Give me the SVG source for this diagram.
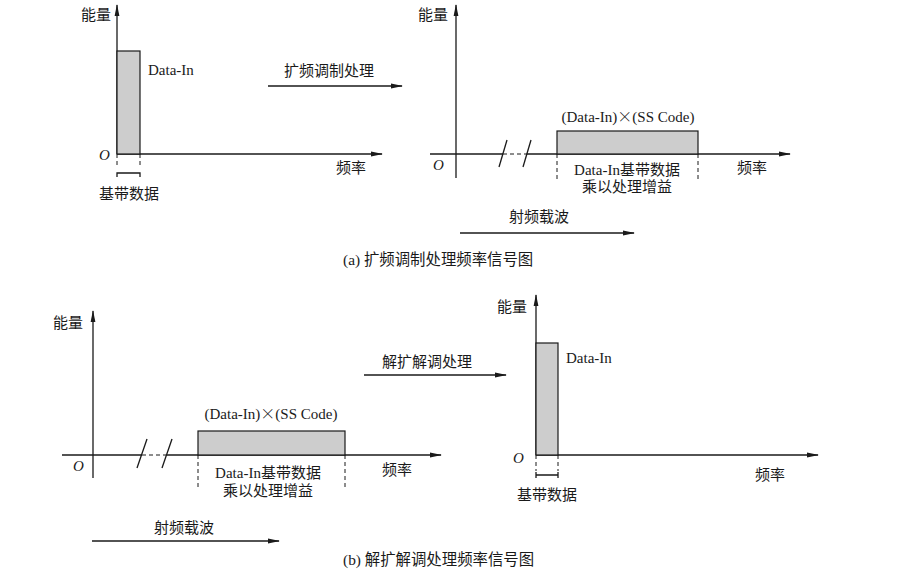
<svg xmlns="http://www.w3.org/2000/svg" width="904" height="577" viewBox="0 0 904 577">
<defs>
<marker id="ah" markerWidth="12" markerHeight="6" refX="11" refY="3" orient="auto" markerUnits="userSpaceOnUse">
<path d="M0,0.6 L12,3 L0,5.4 Z" fill="#1a1a1a"/>
</marker>
<style>
.ax{stroke:#1a1a1a;stroke-width:1.3;fill:none}
.dash{stroke:#1a1a1a;stroke-width:1;fill:none;stroke-dasharray:4,3}
.bar{fill:#cdcdcd;stroke:#1a1a1a;stroke-width:1.2}
.t{font-family:"Liberation Serif","Noto Sans CJK SC",serif;font-size:15px;fill:#1a1a1a}
.c{font-family:"Liberation Serif","Noto Sans CJK SC",serif;font-size:15.4px;fill:#1a1a1a}
.o{font-family:"Liberation Serif",serif;font-style:italic;font-size:15px;fill:#1a1a1a}
.x{font-family:"Noto Sans CJK SC",sans-serif;font-weight:300}
.m{text-anchor:middle}
</style>
</defs>
<rect width="904" height="577" fill="#ffffff"/>

<g id="panel-a-baseband">
<line class="ax" x1="117" y1="154" x2="117" y2="5" marker-end="url(#ah)"/>
<line class="ax" x1="117" y1="154" x2="382" y2="154" marker-end="url(#ah)"/>
<rect class="bar" x="117" y="51" width="23" height="103"/>
<line class="dash" x1="117" y1="154" x2="117" y2="168"/>
<line class="dash" x1="140" y1="154" x2="140" y2="168"/>
<path class="ax" d="M117,177 V173 H140 V177" stroke-width="1"/>
<text class="t" x="81" y="20">能量</text>
<text class="o" x="99" y="160">O</text>
<text class="t" x="148" y="75">Data-In</text>
<text class="t" x="336" y="173">频率</text>
<text class="t m" x="129" y="199">基带数据</text>
</g>

<g id="panel-a-spread">
<line class="ax" x1="456" y1="178" x2="456" y2="5" marker-end="url(#ah)"/>
<line class="ax" x1="430" y1="154" x2="503" y2="154"/>
<line class="dash" x1="503" y1="154" x2="527" y2="154"/>
<line class="ax" x1="527" y1="154" x2="790" y2="154" marker-end="url(#ah)"/>
<line class="ax" x1="499" y1="167" x2="507" y2="140"/>
<line class="ax" x1="523" y1="167" x2="531" y2="140"/>
<rect class="bar" x="557" y="131" width="141" height="23"/>
<line class="dash" x1="557" y1="154" x2="557" y2="182"/>
<line class="dash" x1="698" y1="154" x2="698" y2="182"/>
<text class="t" x="418" y="20">能量</text>
<text class="o" x="433" y="170">O</text>
<text class="t m" x="628" y="122">(Data-In)<tspan class="x">×</tspan>(SS Code)</text>
<text class="t m" x="627" y="175">Data-In基带数据</text>
<text class="t m" x="627" y="192">乘以处理增益</text>
<text class="t" x="737" y="173">频率</text>
</g>

<g id="panel-b-spread">
<line class="ax" x1="93" y1="478" x2="93" y2="311" marker-end="url(#ah)"/>
<line class="ax" x1="62" y1="455" x2="142" y2="455"/>
<line class="dash" x1="142" y1="455" x2="167" y2="455"/>
<line class="ax" x1="167" y1="455" x2="441" y2="455" marker-end="url(#ah)"/>
<line class="ax" x1="137" y1="468" x2="147" y2="439"/>
<line class="ax" x1="162" y1="468" x2="172" y2="439"/>
<rect class="bar" x="198" y="431" width="147" height="24"/>
<line class="dash" x1="198" y1="455" x2="198" y2="487"/>
<line class="dash" x1="345" y1="455" x2="345" y2="487"/>
<text class="t" x="53" y="328">能量</text>
<text class="o" x="73" y="471">O</text>
<text class="t m" x="271" y="419">(Data-In)<tspan class="x">×</tspan>(SS Code)</text>
<text class="t m" x="268" y="478">Data-In基带数据</text>
<text class="t m" x="268" y="496">乘以处理增益</text>
<text class="t" x="382" y="475">频率</text>
</g>

<g id="panel-b-baseband">
<line class="ax" x1="536" y1="455" x2="536" y2="295" marker-end="url(#ah)"/>
<line class="ax" x1="536" y1="455" x2="818" y2="455" marker-end="url(#ah)"/>
<rect class="bar" x="536" y="343" width="22" height="112"/>
<line class="dash" x1="536" y1="455" x2="536" y2="471"/>
<line class="dash" x1="558" y1="455" x2="558" y2="471"/>
<path class="ax" d="M536,472 V478 M536,475 H558 M558,472 V478" stroke-width="1"/>
<text class="t" x="497" y="312">能量</text>
<text class="o" x="513" y="463">O</text>
<text class="t" x="566" y="363">Data-In</text>
<text class="t" x="755" y="480">频率</text>
<text class="t m" x="547" y="500">基带数据</text>
</g>

<g id="connectors">
<line class="ax" x1="268" y1="86" x2="402" y2="86" marker-end="url(#ah)"/>
<text class="t" x="284" y="76">扩频调制处理</text>
<line class="ax" x1="460" y1="233" x2="634" y2="233" marker-end="url(#ah)"/>
<text class="t" x="509" y="222">射频载波</text>
<line class="ax" x1="364" y1="375" x2="506" y2="375" marker-end="url(#ah)"/>
<text class="t" x="382" y="367">解扩解调处理</text>
<line class="ax" x1="92" y1="541" x2="279" y2="541" marker-end="url(#ah)"/>
<text class="t" x="154" y="533">射频载波</text>
</g>

<text class="c" x="343" y="265">(a) 扩频调制处理频率信号图</text>
<text class="c" x="343" y="565">(b) 解扩解调处理频率信号图</text>
</svg>
